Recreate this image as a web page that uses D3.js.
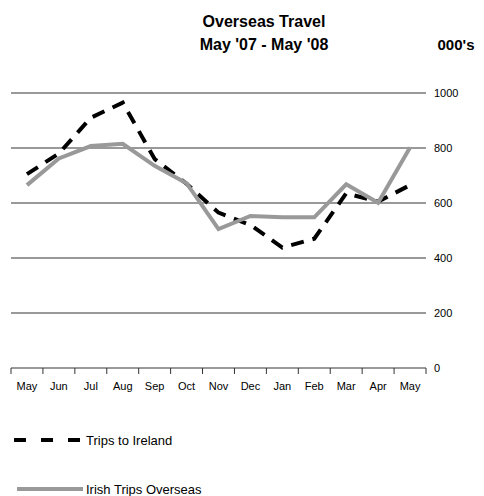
<!DOCTYPE html>
<html>
<head>
<meta charset="utf-8">
<script src="https://cdn.jsdelivr.net/npm/d3@7"></script>
<style>
  body { margin: 0; background: #fff; }
  text { font-family: "Liberation Sans", Arial, sans-serif; }
</style>
</head>
<body>
<script>
// months along the x axis
var months = ["May", "Jun", "Jul", "Aug", "Sep", "Oct", "Nov", "Dec", "Jan", "Feb", "Mar", "Apr", "May"];
// thousands of trips
var tripsToIreland = [705, 780, 910, 965, 760, 670, 565, 520, 438, 470, 635, 605, 665];
var irishTripsOverseas = [665, 762, 807, 815, 735, 672, 505, 553, 548, 548, 668, 601, 802];
var yTicks = [0, 200, 400, 600, 800, 1000];

drawChart();

function drawChart() {
    var width = 484, height = 496;
    var plotLeft = 11, plotRight = 426, plotTop = 93, plotBottom = 368;

    var svg = d3.select("body").append("svg")
        .attr("width", width)
        .attr("height", height);

    var x = d3.scaleBand()
        .domain(d3.range(months.length))
        .range([plotLeft, plotRight]);

    var y = d3.scaleLinear()
        .domain([0, 1000])
        .range([plotBottom, plotTop]);

    // gridlines
    svg.selectAll(".grid")
        .data(yTicks.filter(function(d){ return d > 0; }))
        .enter().append("line")
        .attr("x1", plotLeft).attr("x2", plotRight)
        .attr("y1", function(d){ return y(d); })
        .attr("y2", function(d){ return y(d); })
        .attr("stroke", "#999").attr("stroke-width", 2);

    // right hand value labels
    svg.selectAll(".ylab")
        .data(yTicks)
        .enter().append("text")
        .attr("x", 434)
        .attr("y", function(d){ return y(d) + 4; })
        .attr("font-size", 11)
        .text(function(d){ return d; });

    // x axis line, tick marks and month labels
    var gx = svg.append("g")
        .attr("transform", "translate(0," + plotBottom + ")");
    gx.append("line")
        .attr("x1", plotLeft).attr("x2", plotRight)
        .attr("stroke", "#999").attr("stroke-width", 2);
    gx.selectAll(".tick")
        .data(d3.range(months.length + 1))
        .enter().append("line")
        .attr("x1", function(i){ return plotLeft + i * x.bandwidth(); })
        .attr("x2", function(i){ return plotLeft + i * x.bandwidth(); })
        .attr("y1", 0).attr("y2", 6)
        .attr("stroke", "#333").attr("stroke-width", 1);
    gx.selectAll(".mlab")
        .data(months)
        .enter().append("text")
        .attr("x", function(d, i){ return x(i) + x.bandwidth() / 2; })
        .attr("y", 22)
        .attr("text-anchor", "middle")
        .attr("font-size", 11)
        .text(function(d){ return d; });

    var line = d3.line()
        .x(function(d, i){ return x(i) + x.bandwidth() / 2; })
        .y(function(d){ return y(d); });

    svg.append("path")
        .datum(tripsToIreland)
        .attr("d", line)
        .attr("fill", "none")
        .attr("stroke", "#000")
        .attr("stroke-width", 4)
        .attr("stroke-dasharray", "13,9");

    svg.append("path")
        .datum(irishTripsOverseas)
        .attr("d", line)
        .attr("fill", "none")
        .attr("stroke", "#999")
        .attr("stroke-width", 4);

    // titles
    svg.append("text").attr("x", 264).attr("y", 27)
        .attr("text-anchor", "middle").attr("font-size", 16).attr("font-weight", "bold")
        .text("Overseas Travel");
    svg.append("text").attr("x", 264).attr("y", 50)
        .attr("text-anchor", "middle").attr("font-size", 16).attr("font-weight", "bold")
        .text("May '07 - May '08");
    svg.append("text").attr("x", 456).attr("y", 50)
        .attr("text-anchor", "middle").attr("font-size", 15).attr("font-weight", "bold")
        .text("000's");

    // legend
    svg.append("line")
        .attr("x1", 14).attr("x2", 80).attr("y1", 440).attr("y2", 440)
        .attr("stroke", "#000").attr("stroke-width", 4)
        .attr("stroke-dasharray", "12,15");
    svg.append("text").attr("x", 86).attr("y", 445).attr("font-size", 13)
        .text("Trips to Ireland");
    svg.append("line")
        .attr("x1", 17).attr("x2", 83).attr("y1", 489).attr("y2", 489)
        .attr("stroke", "#999").attr("stroke-width", 4);
    svg.append("text").attr("x", 86).attr("y", 494).attr("font-size", 13)
        .text("Irish Trips Overseas");
}
</script>
</body>
</html>
